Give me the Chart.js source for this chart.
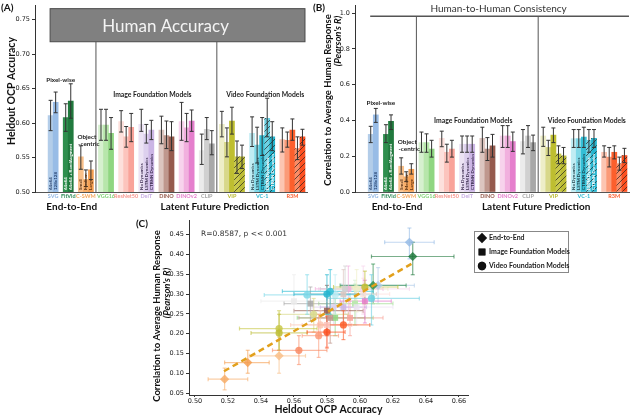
<!DOCTYPE html>
<html>
<head>
<meta charset="utf-8">
<script src="https://cdn.jsdelivr.net/npm/chart.js@4.4.1/dist/chart.umd.min.js"></script>
<style>
  html, body { margin: 0; padding: 0; background: #fff; }
  body { width: 640px; height: 415px; position: relative; overflow: hidden; }
  .panel { position: absolute; }
</style>
</head>
<body>
<div class="panel" style="left:0;top:0;width:320px;height:215px"><canvas id="chartA"></canvas></div>
<div class="panel" style="left:310px;top:0;width:330px;height:215px"><canvas id="chartB"></canvas></div>
<div class="panel" style="left:130px;top:215px;width:510px;height:200px"><canvas id="chartC"></canvas></div>
<script>
// DATA

const groups = ['SVG', 'FitVid', 'C-SWM', 'VGG16', 'ResNet50', 'DeiT', 'DINO', 'DINOv2', 'CLIP', 'VIP', 'VC-1', 'R3M'];
const groupSizes = [2, 2, 3, 3, 3, 3, 3, 3, 3, 5, 5, 5];
const groupFamily = [0, 0, 0, 1, 1, 1, 1, 1, 1, 2, 2, 2];
const familyNames = ['End-to-End', 'Image Foundation Models', 'Video Foundation Models'];

const barNotes = [
	'64x64', '128x128',
	'64x64', '64x64 + RandAugment',
	'Small', 'Medium', 'Large',
	'', '', '', '', '', '',
	'No Dynamics', 'LSTM Dynamics', 'CTRNN Dynamics',
	'', '', '', '', '', '', '', '', '',
	'', '', '', '', '',
	'No Dynamics', 'LSTM Dynamics', 'CTRNN Dynamics', 'LSTM Dynamics', 'CTRNN Dynamics',
	'', '', '', '', ''
];

// Heldout OCP accuracy (panel A)
const accMean = [
	0.611, 0.630,
	0.608, 0.632,
	0.551, 0.518, 0.532,
	0.597, 0.597, 0.585,
	0.602, 0.580, 0.594,
	0.598, 0.584, 0.590,
	0.590, 0.582, 0.580,
	0.602, 0.593, 0.603,
	0.560, 0.591, 0.570,
	0.598, 0.572, 0.603, 0.551, 0.551,
	0.585, 0.568, 0.582, 0.607, 0.580,
	0.576, 0.575, 0.590, 0.563, 0.580
];
const accLow = [
	0.589, 0.615,
	0.588, 0.607,
	0.533, 0.508, 0.518,
	0.575, 0.575, 0.562,
	0.587, 0.565, 0.573,
	0.588, 0.571, 0.576,
	0.570, 0.563, 0.560,
	0.575, 0.573, 0.588,
	0.540, 0.576, 0.554,
	0.580, 0.551, 0.584, 0.527, 0.534,
	0.566, 0.542, 0.553, 0.580, 0.560,
	0.558, 0.565, 0.575, 0.547, 0.568
];
const accHigh = [
	0.633, 0.645,
	0.628, 0.657,
	0.567, 0.532, 0.545,
	0.620, 0.620, 0.608,
	0.618, 0.595, 0.614,
	0.620, 0.598, 0.604,
	0.610, 0.603, 0.602,
	0.630, 0.614, 0.619,
	0.584, 0.608, 0.589,
	0.617, 0.593, 0.623, 0.574, 0.568,
	0.609, 0.594, 0.608, 0.636, 0.602,
	0.593, 0.587, 0.606, 0.580, 0.591
];

// Correlation to average human response (panel B)
const corrMean = [
	0.322, 0.431,
	0.322, 0.395,
	0.144, 0.085, 0.127,
	0.276, 0.276, 0.240,
	0.300, 0.222, 0.240,
	0.267, 0.267, 0.267,
	0.300, 0.240, 0.258,
	0.313, 0.313, 0.282,
	0.282, 0.313, 0.276,
	0.313, 0.249, 0.318, 0.213, 0.202,
	0.298, 0.298, 0.307, 0.289, 0.300,
	0.222, 0.195, 0.222, 0.158, 0.204
];
const corrLow = [
	0.276, 0.389,
	0.276, 0.349,
	0.100, 0.058, 0.100,
	0.222, 0.222, 0.195,
	0.253, 0.167, 0.195,
	0.222, 0.222, 0.222,
	0.222, 0.176, 0.195,
	0.249, 0.249, 0.227,
	0.213, 0.249, 0.231,
	0.255, 0.204, 0.276, 0.158, 0.158,
	0.249, 0.249, 0.249, 0.222, 0.249,
	0.195, 0.140, 0.185, 0.122, 0.164
];
const corrHigh = [
	0.367, 0.467,
	0.376, 0.431,
	0.191, 0.113, 0.158,
	0.335, 0.325, 0.289,
	0.340, 0.267, 0.289,
	0.313, 0.313, 0.313,
	0.362, 0.304, 0.322,
	0.371, 0.371, 0.335,
	0.349, 0.371, 0.318,
	0.362, 0.289, 0.358, 0.258, 0.249,
	0.349, 0.349, 0.362, 0.349, 0.349,
	0.258, 0.249, 0.258, 0.195, 0.244
];

const humanAcc = [0.718, 0.766];
const humanConsistency = 0.982;

const accTicks = [0.50, 0.55, 0.60, 0.65, 0.70, 0.75];
const corrTicks = [0.0, 0.2, 0.4, 0.6, 0.8, 1.0];
const scatterXTicks = [0.50, 0.52, 0.54, 0.56, 0.58, 0.60, 0.62, 0.64, 0.66];
const scatterYTicks = [0.05, 0.10, 0.15, 0.20, 0.25, 0.30, 0.35, 0.40, 0.45];

// regression line endpoints
const fitX = [0.5176, 0.6327];
const fitY = [0.105, 0.380];
const fitText = 'R=0.8587, p << 0.001';

// STYLES

const barColors = [
	'#b3cde9', '#98bce6',
	'#2f8f4e', '#217a3e',
	'#f9c08a', '#f7ae6a', '#f59f52',
	'#d6f0cf', '#b7e6ab', '#8fd681',
	'#fde0dc', '#fcc4bd', '#f9a39a',
	'#ece3f4', '#ddd0ee', '#cbb5e5',
	'#dcc5bf', '#bf978d', '#955a4d',
	'#f7d3ec', '#f1b0de', '#e57fcd',
	'#ebebeb', '#d0d0d0', '#a8a8a8',
	'#eeeec8', '#d8d88a', '#bebe30', '#c8c84a', '#bdbd35',
	'#c0ecf3', '#7fd8e7', '#34bfd6', '#6dd1e2', '#25b5cf',
	'#fcc5b2', '#fb9a78', '#fc5f2c', '#f98c66', '#fd5020'
];
const hatchedBars = [28, 29, 33, 34, 38, 39];
const groupColors = ['#8fb5e3', '#2e8b57', '#f5a55a', '#7dd072', '#f89890', '#c7ade3', '#94594b', '#e47ccb', '#a3a3a3', '#b9b92a', '#2ab8d2', '#fb5a2a'];
const noteColors = ['#24406e', '#ffffff', '#5a3010', '#333', '#333', '#3a2a50', '#333', '#333', '#333', '#333', '#1a3a45', '#333'];
const familyShapes = ['rectRot', 'rect', 'circle'];
const familyRadius = [4.6, 4.2, 3.6];

// slot positions: one empty slot between groups
const slots = [];
const barGroup = [];
let slot = 0;
groupSizes.forEach((n, g) => {
	for (let k = 0; k < n; k++) {
		slots.push(slot++);
		barGroup.push(g);
	}
	slot++;
});

function rgba(hex, a) {
	const n = parseInt(hex.slice(1), 16);
	return `rgba(${n >> 16},${(n >> 8) & 255},${n & 255},${a})`;
}

function hatch(ctx, color) {
	const c = document.createElement('canvas');
	c.width = 6; c.height = 6;
	const g = c.getContext('2d');
	g.fillStyle = color;
	g.fillRect(0, 0, 6, 6);
	g.strokeStyle = 'rgba(30,30,30,0.85)';
	g.lineWidth = 0.8;
	g.beginPath();
	g.moveTo(0, 6); g.lineTo(6, 0);
	g.moveTo(-1, 1); g.lineTo(1, -1);
	g.moveTo(5, 7); g.lineTo(7, 5);
	g.stroke();
	return ctx.createPattern(c, 'repeat');
}

function text(ctx, s, x, y, font, color, align, rot) {
	ctx.save();
	ctx.font = font;
	ctx.fillStyle = color;
	ctx.textAlign = align || 'center';
	ctx.textBaseline = 'middle';
	ctx.translate(x, y);
	if (rot) ctx.rotate(rot);
	ctx.fillText(s, 0, 0);
	ctx.restore();
}

function line(ctx, x0, y0, x1, y1) {
	ctx.beginPath();
	ctx.moveTo(x0, y0);
	ctx.lineTo(x1, y1);
	ctx.stroke();
}

// PANELS A & B

function barErrors(lo, hi) {
	return {
		id: 'barErrors',
		afterDatasetsDraw(chart) {
			const ctx = chart.ctx, ys = chart.scales.y;
			const meta = chart.getDatasetMeta(0);
			ctx.save();
			ctx.strokeStyle = '#333';
			ctx.lineWidth = 1;
			meta.data.forEach((bar, i) => {
				const t = ys.getPixelForValue(hi[i]), b = ys.getPixelForValue(lo[i]);
				line(ctx, bar.x, t, bar.x, b);
				line(ctx, bar.x - 2, t, bar.x + 2, t);
				line(ctx, bar.x - 2, b, bar.x + 2, b);
			});
			ctx.restore();
		}
	};
}

function barDecor(cfg) {
	return {
		id: 'barDecor',
		afterDraw(chart) {
			const ctx = chart.ctx, area = chart.chartArea, ys = chart.scales.y;
			const meta = chart.getDatasetMeta(0);
			let k = 0;
			const spans = groupSizes.map(n => {
				const a = meta.data[k], b = meta.data[k + n - 1];
				k += n;
				return { l: a.x - a.width / 2, r: b.x + b.width / 2, c: (a.x + b.x) / 2 };
			});
			const sep1 = (spans[2].r + spans[3].l) / 2;
			const sep2 = (spans[8].r + spans[9].l) / 2;
			const left = spans[0].l + 2, right = spans[11].r;
			let sepTop;

			ctx.save();
			if (cfg.box) {
				const t = ys.getPixelForValue(humanAcc[1]), b = ys.getPixelForValue(humanAcc[0]);
				ctx.fillStyle = '#808080';
				ctx.strokeStyle = '#4a4a4a';
				ctx.lineWidth = 1;
				ctx.fillRect(left, t, right - left, b - t);
				ctx.strokeRect(left, t, right - left, b - t);
				text(ctx, 'Human Accuracy', (left + right) / 2 - 12, (t + b) / 2 + 1, '17px Lato', '#f4f4f4');
				sepTop = b;
			} else {
				const y = ys.getPixelForValue(humanConsistency);
				ctx.strokeStyle = '#555';
				ctx.lineWidth = 1.5;
				line(ctx, left, y, right + 2, y);
				text(ctx, 'Human-to-Human Consistency', (left + right) / 2, y - 7, '10px Lato', '#333');
				sepTop = y;
			}

			ctx.strokeStyle = '#555';
			ctx.lineWidth = 1;
			line(ctx, sep1, sepTop, sep1, area.bottom);
			line(ctx, sep2, sepTop, sep2, area.bottom);

			// text inside bars
			meta.data.forEach((bar, i) => {
				if (!barNotes[i]) return;
				const col = hatchedBars.includes(i) ? '#ffffff' : noteColors[barGroup[i]];
				text(ctx, barNotes[i], bar.x, area.bottom - 2, 'bold 4.5px Lato', col, 'left', -Math.PI / 2);
			});

			// group names and families
			spans.forEach((sp, g) => text(ctx, groups[g], sp.c, area.bottom + 4, 'bold 5.5px Lato', groupColors[g]));
			text(ctx, 'End-to-End', (spans[0].l + spans[2].r) / 2 + cfg.e2eShift, area.bottom + 15, 'bold 10px Lato', '#111');
			text(ctx, 'Latent Future Prediction', sep2 - 2, area.bottom + 15, 'bold 10px Lato', '#111');

			// annotations
			const ann = 'bold 6.3px Lato';
			text(ctx, 'Pixel-wise', (spans[0].l + spans[1].r) / 2, ys.getPixelForValue(cfg.pixelY), ann, '#222');
			text(ctx, 'Object', spans[2].c + 1, ys.getPixelForValue(cfg.objY[0]), ann, '#222');
			text(ctx, '-centric', spans[2].c + 3, ys.getPixelForValue(cfg.objY[1]), ann, '#222');
			text(ctx, 'Image Foundation Models', (spans[3].l + spans[8].r) / 2 - 4, ys.getPixelForValue(cfg.famY), 'bold 6.8px Lato', '#222');
			text(ctx, 'Video Foundation Models', (spans[9].l + spans[11].r) / 2 + 3, ys.getPixelForValue(cfg.famY), 'bold 6.8px Lato', '#222');

			// panel label and y title
			text(ctx, cfg.panel, cfg.panelX, 8, 'bold 10px Lato', '#111', 'left');
			cfg.titles.forEach(tt => text(ctx, tt.s, tt.x, tt.y, tt.font, '#111', 'center', -Math.PI / 2));
			ctx.restore();
		}
	};
}

function makeBarChart(id, vals, lo, hi, yMin, yMax, yTicks, digits, cfg) {
	const ctx = document.getElementById(id).getContext('2d');
	const fills = barColors.map((c, i) => hatchedBars.includes(i) ? hatch(ctx, c) : c);
	return new Chart(ctx, {
		type: 'bar',
		data: {
			datasets: [{
				data: slots.map((s, i) => ({ x: s, y: vals[i] })),
				backgroundColor: fills,
				borderWidth: 0,
				barPercentage: 1,
				categoryPercentage: 1
			}]
		},
		options: {
			responsive: true,
			maintainAspectRatio: false,
			animation: false,
			layout: { padding: { top: 3, right: cfg.padRight, left: 0, bottom: 0 } },
			plugins: { legend: { display: false }, tooltip: { enabled: false } },
			scales: {
				x: {
					type: 'linear',
					offset: false,
					min: -3.1,
					max: 50.9,
					afterBuildTicks: s => { s.ticks = []; },
					afterFit: s => { s.height = 23; },
					ticks: { display: false },
					grid: { display: false },
					border: { display: true, color: '#555', width: 1 }
				},
				y: {
					min: yMin,
					max: yMax,
					afterBuildTicks: s => { s.ticks = yTicks.map(v => ({ value: v })); },
					afterFit: s => { s.width = cfg.axisX; },
					ticks: {
						callback: v => v.toFixed(digits),
						font: { family: 'DejaVu Sans', size: 6.5 },
						color: '#222',
						padding: 2
					},
					grid: { drawOnChartArea: false, tickLength: 3, color: '#333' },
					border: { display: true, color: '#333', width: 1 }
				}
			}
		},
		plugins: [barErrors(lo, hi), barDecor(cfg)]
	});
}

makeBarChart('chartA', accMean, accLow, accHigh, 0.5, 0.77, accTicks, 2, {
	box: true, axisX: 35, padRight: 13, panel: '(A)', panelX: 1, e2eShift: 1,
	pixelY: 0.663, objY: [0.580, 0.570], famY: 0.641,
	titles: [{ s: 'Heldout OCP Accuracy', x: 12, y: 91, font: 'bold 10.5px Lato' }]
});

makeBarChart('chartB', corrMean, corrLow, corrHigh, 0, 1.04, corrTicks, 1, {
	box: false, axisX: 45, padRight: 11, panel: '(B)', panelX: 3, e2eShift: 6,
	pixelY: 0.50, objY: [0.280, 0.242], famY: 0.40,
	titles: [
		{ s: 'Correlation to Average Human Response', x: 18, y: 100, font: 'bold 9.5px Lato' },
		{ s: "(Pearson's R)", x: 28, y: 41, font: 'italic bold 9.5px Lato' }
	]
});

// PANEL C

const scatterErrors = {
	id: 'scatterErrors',
	beforeDatasetsDraw(chart) {
		const ctx = chart.ctx, xs = chart.scales.x, ys = chart.scales.y;
		const meta = chart.getDatasetMeta(1);
		ctx.save();
		ctx.lineWidth = 1.2;
		meta.data.forEach((pt, i) => {
			const x0 = xs.getPixelForValue(accLow[i]), x1 = xs.getPixelForValue(accHigh[i]);
			const y0 = ys.getPixelForValue(corrLow[i]), y1 = ys.getPixelForValue(corrHigh[i]);
			ctx.strokeStyle = rgba(barColors[i], 0.6);
			line(ctx, x0, pt.y, x1, pt.y);
			line(ctx, x0, pt.y - 2, x0, pt.y + 2);
			line(ctx, x1, pt.y - 2, x1, pt.y + 2);
			line(ctx, pt.x, y0, pt.x, y1);
			line(ctx, pt.x - 2, y0, pt.x + 2, y0);
			line(ctx, pt.x - 2, y1, pt.x + 2, y1);
		});
		ctx.restore();
	}
};

const scatterDecor = {
	id: 'scatterDecor',
	afterDraw(chart) {
		const ctx = chart.ctx, area = chart.chartArea;
		ctx.save();
		text(ctx, '(C)', 6, 9, 'bold 10px Lato', '#111', 'left');
		text(ctx, fitText, area.left + 12, 19, '7.5px DejaVu Sans', '#333', 'left');
		text(ctx, 'Heldout OCP Accuracy', (area.left + area.right) / 2, 195, 'bold 10.5px Lato', '#111');
		text(ctx, 'Correlation to Average Human Response', 27, 101, 'bold 9.5px Lato', '#111', 'center', -Math.PI / 2);
		text(ctx, "(Pearson's R)", 37, 78, 'italic bold 9.5px Lato', '#111', 'center', -Math.PI / 2);

		// legend box
		const lx = area.right + 6, ly = 16, lw = 94, lh = 41;
		ctx.strokeStyle = '#888';
		ctx.lineWidth = 1;
		ctx.fillStyle = '#fff';
		ctx.fillRect(lx, ly, lw, lh);
		ctx.strokeRect(lx + 0.5, ly + 0.5, lw, lh);
		familyNames.forEach((name, f) => {
			const y = ly + 7 + f * 14;
			Chart.helpers.drawPoint(ctx, {
				pointStyle: familyShapes[f], radius: familyRadius[f] + 0.6, borderWidth: 0, rotation: 0
			}, lx + 8, y);
			ctx.fillStyle = '#111';
			ctx.fill();
			text(ctx, name, lx + 15, y, 'bold 7px Lato', '#222', 'left');
		});
		ctx.restore();
	}
};

new Chart(document.getElementById('chartC').getContext('2d'), {
	data: {
		datasets: [
			{
				type: 'line',
				data: fitX.map((x, i) => ({ x: x, y: fitY[i] })),
				borderColor: '#e2a01c',
				borderWidth: 2.5,
				borderDash: [6, 4],
				pointRadius: 0,
				fill: false
			},
			{
				type: 'scatter',
				data: accMean.map((x, i) => ({ x: x, y: corrMean[i] })),
				pointStyle: barGroup.map(g => familyShapes[groupFamily[g]]),
				pointRadius: barGroup.map(g => familyRadius[groupFamily[g]]),
				backgroundColor: barColors.map(c => rgba(c, 0.85)),
				borderWidth: 0
			}
		]
	},
	options: {
		responsive: true,
		maintainAspectRatio: false,
		animation: false,
		layout: { padding: { top: 4, right: 172, left: 0, bottom: 0 } },
		plugins: { legend: { display: false }, tooltip: { enabled: false } },
		scales: {
			x: {
				type: 'linear',
				min: 0.4964,
				max: 0.6655,
				afterBuildTicks: s => { s.ticks = scatterXTicks.map(v => ({ value: v })); },
				afterFit: s => { s.height = 20; },
				ticks: { callback: v => v.toFixed(2), font: { family: 'DejaVu Sans', size: 6.5 }, color: '#222', padding: 0, maxRotation: 0 },
				grid: { drawOnChartArea: false, tickLength: 2, color: '#333' },
				border: { display: true, color: '#333', width: 1 }
			},
			y: {
				type: 'linear',
				min: 0.045,
				max: 0.485,
				afterBuildTicks: s => { s.ticks = scatterYTicks.map(v => ({ value: v })); },
				afterFit: s => { s.width = 59; },
				ticks: { callback: v => v.toFixed(2), font: { family: 'DejaVu Sans', size: 6.5 }, color: '#222', padding: 2 },
				grid: { drawOnChartArea: false, tickLength: 3, color: '#333' },
				border: { display: true, color: '#333', width: 1 }
			}
		}
	},
	plugins: [scatterErrors, scatterDecor]
});
</script>
</body>
</html>
